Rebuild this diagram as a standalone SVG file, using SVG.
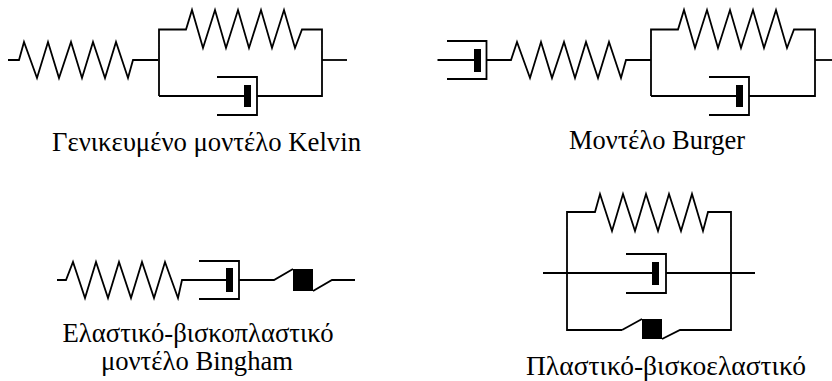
<svg xmlns="http://www.w3.org/2000/svg" width="832" height="381" viewBox="0 0 832 381">
<style>
.l{fill:none;stroke:#000;stroke-width:1.8;stroke-linejoin:miter}
.b{fill:#000;stroke:none}
text{font-family:"Liberation Serif","Times New Roman",serif;font-size:26.500px;fill:#000;text-anchor:middle}
</style>
<rect width="832" height="381" fill="#fff"/>
<g id="kelvin">
<polyline class="l" points="8,60 19,60 24,42 37,78 48,42 59,78 71,42 82,78 93,42 105,78 116,42 128,78 133,60 158,60"/>
<polyline class="l" points="159,96 159,29.500 186,29.500 192,10 203,48 215,10 226,48 238,10 249,48 261,10 272,48 284,10 295,48 302,29.500 322,29.500 322,96 257,96"/>
<polyline class="l" points="159,96 244,96"/>
<polyline class="l" points="217,77 257,77 257,115 217,115"/>
<rect class="b" x="244" y="85" width="7" height="22"/>
<polyline class="l" points="322,60 347,60"/>
<text x="206.500" y="151" textLength="309" lengthAdjust="spacingAndGlyphs">Γενικευμένο μοντέλο Kelvin</text>
</g>
<g id="burger">
<polyline class="l" points="437.500,60 474,60"/>
<polyline class="l" points="447,41 486.500,41 486.500,79 447,79"/>
<rect class="b" x="474" y="49" width="7" height="23"/>
<polyline class="l" points="487,60 511,60 517,42 530,78 541,42 552,78 564,42 575,78 586,42 598,78 609,42 621,78 626,60 651,60"/>
<polyline class="l" points="651,96 651,29.500 678,29.500 684,10 695,48 707,10 718,48 730,10 741,48 753,10 764,48 776,10 787,48 794,29.500 815,29.500 815,96 749,96"/>
<polyline class="l" points="651,96 736,96"/>
<polyline class="l" points="709,77 749,77 749,115 709,115"/>
<rect class="b" x="736" y="85" width="7" height="22"/>
<polyline class="l" points="815,60 832,60"/>
<text x="657" y="149" textLength="176" lengthAdjust="spacingAndGlyphs">Μοντέλο Burger</text>
</g>
<g id="bingham">
<polyline class="l" points="57,280 66,280 73,262 85,298 96,262 108,298 119,262 131,298 142,262 154,298 165,262 178,298 182,280 226,280"/>
<polyline class="l" points="199,261 239,261 239,299 199,299"/>
<rect class="b" x="226" y="268" width="7" height="24"/>
<polyline class="l" points="239,280 274,280 293,269"/>
<rect class="b" x="293" y="269" width="20" height="22"/>
<polyline class="l" points="313,291 332,280 355,280"/>
<text x="198" y="342" textLength="271" lengthAdjust="spacingAndGlyphs">Ελαστικό-βισκοπλαστικό</text>
<text x="197" y="370" textLength="192" lengthAdjust="spacingAndGlyphs">μοντέλο Bingham</text>
</g>
<g id="plastic-viscoelastic">
<polyline class="l" points="622,330 567,330 567,212 595,212 600,194 612,231 623,194 635,231 646,194 658,231 669,194 681,231 692,194 703,231 708,212 731,212 731,330 680,330 662,339"/>
<polyline class="l" points="543,273 652,273"/>
<polyline class="l" points="626,254 666,254 666,293 626,293"/>
<rect class="b" x="652" y="262" width="7" height="23"/>
<polyline class="l" points="666,273 755,273"/>
<polyline class="l" points="622,330 642,319"/>
<rect class="b" x="642" y="319" width="20" height="20"/>
<text x="666" y="375" textLength="280" lengthAdjust="spacingAndGlyphs">Πλαστικό-βισκοελαστικό</text>
</g>
</svg>
